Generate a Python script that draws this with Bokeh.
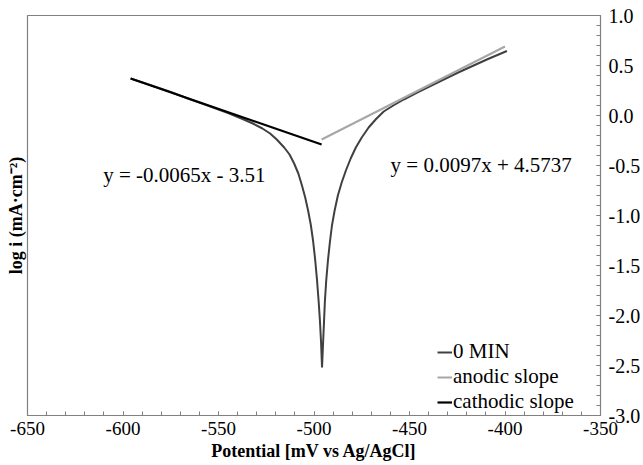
from bokeh.plotting import figure
from bokeh.models import Range1d, LinearAxis, FixedTicker, Label, Legend, LegendItem
from bokeh.embed import file_html
from bokeh.resources import INLINE

# ---- data ----
pot_0min = [-596, -585, -575, -565, -555, -545, -538, -532, -527, -523, -519.5, -515.6,
            -512.8, -510.4, -508.2, -506.3, -504.6, -503.1, -501.7, -500.5, -499.4,
            -498.4, -497.6, -496.9, -496.3, -495.8,
            -495.3, -494.8, -494.3, -493.6, -492.7, -491.7, -490.6, -489.2, -487.5,
            -485.5, -483.3, -480.8, -478.1, -475, -471.4, -467.5, -463.5, -458.5,
            -453, -446, -438.5, -431, -424.5, -417, -408.9, -399]
logi_0min = [0.37, 0.30, 0.235, 0.163, 0.095, 0.025, -0.03, -0.08, -0.13, -0.18, -0.24, -0.32,
             -0.39, -0.48, -0.58, -0.70, -0.82, -0.95, -1.09, -1.25, -1.44,
             -1.65, -1.85, -2.05, -2.27, -2.52,
             -2.30, -2.08, -1.86, -1.65, -1.45, -1.27, -1.10, -0.95, -0.80,
             -0.67, -0.55, -0.43, -0.32, -0.22, -0.12, -0.035, 0.04, 0.10,
             0.16, 0.23, 0.30, 0.37, 0.43, 0.495, 0.565, 0.645]

anodic_pot = [-496, -400]
anodic_logi = [-0.24, 0.69]

cathodic_pot = [-596, -496]
cathodic_logi = [0.37, -0.29]

x_ticks = [-650, -600, -550, -500, -450, -400, -350]
x_tick_labels = ["-650", "-600", "-550", "-500", "-450", "-400", "-350"]
y_ticks = [1.0, 0.5, 0.0, -0.5, -1.0, -1.5, -2.0, -2.5, -3.0]
y_tick_labels = ["1.0", "0.5", "0.0", "-0.5", "-1.0", "-1.5", "-2.0", "-2.5", "-3.0"]

cathodic_eq = "y = -0.0065x - 3.51"
anodic_eq = "y = 0.0097x + 4.5737"

FONT = "Liberation Serif"
GRAY = "#808080"

p = figure(width=643, height=465, x_range=Range1d(-650, -350), y_range=Range1d(-3, 1),
           y_axis_location="right", output_backend="svg", toolbar_location=None,
           min_border_left=27, min_border_right=40, min_border_top=15, min_border_bottom=50)
p.xgrid.visible = False
p.ygrid.visible = False
p.outline_line_color = GRAY
p.outline_line_width = 1.2
p.background_fill_color = "white"
p.border_fill_color = "white"

# bottom axis
xa = p.xaxis[0]
xa.ticker = FixedTicker(ticks=x_ticks, minor_ticks=list(range(-650, -349, 10)))
xa.major_label_overrides = {t: l for t, l in zip(x_ticks, x_tick_labels)}
xa.major_tick_in = 4
xa.major_tick_out = 0
xa.minor_tick_in = 4
xa.minor_tick_out = 0
xa.axis_line_color = GRAY
xa.major_tick_line_color = GRAY
xa.minor_tick_line_color = GRAY
xa.major_label_text_font = FONT
xa.major_label_text_font_size = "19px"
xa.major_label_text_color = "black"
xa.major_label_standoff = 6
xa.axis_label = "Potential [mV vs Ag/AgCl]"
xa.axis_label_text_font = FONT
xa.axis_label_text_font_size = "18px"
xa.axis_label_text_font_style = "bold"
xa.axis_label_text_color = "black"
xa.axis_label_standoff = 3

# right axis
ya = p.yaxis[0]
ya.ticker = FixedTicker(ticks=y_ticks, minor_ticks=[round(-3 + 0.1 * i, 1) for i in range(41)])
ya.major_label_overrides = {t: l for t, l in zip(y_ticks, y_tick_labels)}
ya.major_tick_in = 4
ya.major_tick_out = 0
ya.minor_tick_in = 4
ya.minor_tick_out = 0
ya.axis_line_color = GRAY
ya.major_tick_line_color = GRAY
ya.minor_tick_line_color = GRAY
ya.major_label_text_font = FONT
ya.major_label_text_font_size = "20px"
ya.major_label_text_color = "black"
ya.major_label_standoff = 8

# left axis only for the title
la = LinearAxis(ticker=FixedTicker(ticks=[]), axis_line_color=None,
                major_tick_in=0, major_tick_out=0, minor_tick_in=0, minor_tick_out=0,
                major_label_text_font_size="0px", major_label_standoff=0,
                axis_label="log i (mA·cm⁻²)", axis_label_text_font=FONT,
                axis_label_text_font_size="18px", axis_label_text_font_style="bold",
                axis_label_text_color="black", axis_label_standoff=2)
p.add_layout(la, "left")

r_curve = p.line(pot_0min, logi_0min, line_color="#404040", line_width=2)
r_an = p.line(anodic_pot, anodic_logi, line_color="#a6a6a6", line_width=2)
r_ca = p.line(cathodic_pot, cathodic_logi, line_color="black", line_width=2.2)

p.add_layout(Label(x=-610.4, y=-0.59, text=cathodic_eq, text_font=FONT, text_font_size="21px",
                   text_baseline="middle", text_color="black"))
p.add_layout(Label(x=-459.9, y=-0.49, text=anodic_eq, text_font=FONT, text_font_size="21px",
                   text_baseline="middle", text_color="black"))

legend = Legend(items=[LegendItem(label="0 MIN", renderers=[r_curve]),
                       LegendItem(label="anodic slope", renderers=[r_an]),
                       LegendItem(label="cathodic slope", renderers=[r_ca])],
                location=(410, 1), label_text_font=FONT, label_text_font_size="21px",
                label_text_color="black", glyph_width=15, glyph_height=20, label_standoff=1,
                spacing=-1, padding=0, margin=0, border_line_color=None,
                background_fill_alpha=0)
p.add_layout(legend)

open("out.html", "w").write(file_html(p, INLINE))
